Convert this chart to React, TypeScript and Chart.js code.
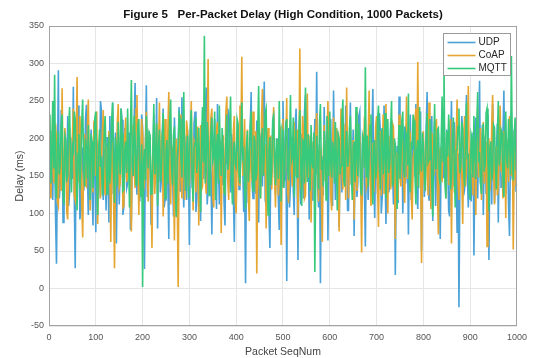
import { useEffect, useRef } from 'react';
import { Chart, registerables } from 'chart.js';

Chart.register(...registerables);

const chartTitle = 'Figure 5   Per-Packet Delay (High Condition, 1000 Packets)';
const xAxisTitle = 'Packet SeqNum';
const yAxisTitle = 'Delay (ms)';
const seriesNames = ['UDP', 'CoAP', 'MQTT'];
const seriesColors = ['#4aa2d8', '#e5a632', '#38ca7c'];
const seqStep = 2;
const xTickStep = 100;
const yTickStep = 50;
const xMin = 0;
const xMax = 1000;
const yMin = -50;
const yMax = 350;

const udpDelay = [
  150, 176, 210, 132, 118, 224, 185, 96, 33, 158, 291, 120, 140, 238, 205, 88, 96, 196, 172, 142,
  230, 110, 128, 202, 178, 146, 269, 124, 27, 182, 160, 244, 212, 92, 105, 170, 188, 130, 142, 226,
  245, 156, 98, 188, 170, 212, 132, 84, 220, 164, 75, 198, 190, 120, 150, 250, 238, 140, 118, 186,
  165, 104, 202, 148, 88, 230, 176, 126, 248, 172, 136, 208, 60, 154, 195, 112, 155, 240, 225, 98,
  110, 214, 182, 134, 140, 196, 208, 78, 92, 178, 160, 226, 274, 150, 125, 200, 190, 116, 148, 232,
  215, 144, 26, 190, 271, 122, 138, 210, 178, 86, 100, 166, 232, 142, 162, 254, 80, 174, 198, 128,
  145, 206, 240, 108, 118, 186, 172, 140, 66, 220, 205, 158, 152, 96, 228, 180, 95, 136, 186, 242,
  130, 176, 255, 150, 108, 204, 168, 118, 212, 162, 58, 196, 192, 134, 146, 220, 236, 102, 120, 184,
  178, 128, 90, 210, 222, 146, 160, 236, 268, 112, 134, 188, 196, 154, 72, 170, 184, 226, 150, 106,
  246, 168, 112, 198, 174, 138, 204, 116, 84, 182, 166, 240, 230, 150, 128, 206, 190, 124, 62, 176,
  158, 200, 218, 132, 140, 184, 252, 164, 102, 142, 7, 170, 186, 114, 148, 216, 262, 138, 120, 194,
  170, 126, 224, 160, 88, 208, 196, 146, 136, 232, 276, 118, 110, 190, 182, 100, 54, 166, 160, 214,
  234, 152, 126, 180, 200, 120, 78, 196, 170, 136, 250, 174, 144, 224, 10, 158, 214, 108, 138, 202,
  180, 130, 98, 216, 240, 154, 38, 178, 166, 112, 206, 148, 120, 236, 258, 168, 150, 196, 92, 184,
  196, 118, 132, 170, 226, 152, 289, 136, 108, 192, 7, 162, 176, 124, 242, 184, 140, 210, 64, 158,
  188, 226, 154, 110, 264, 176, 118, 200, 210, 142, 82, 180, 172, 128, 228, 160, 136, 244, 196, 104,
  104, 190, 248, 138, 160, 212, 70, 166, 184, 122, 142, 230, 236, 150, 116, 194, 200, 132, 56, 178,
  168, 118, 222, 176, 130, 204, 266, 144, 94, 188, 180, 126, 150, 234, 210, 100, 122, 172, 244, 156,
  86, 196, 174, 128, 138, 222, 202, 160, 112, 180, 18, 150, 190, 114, 256, 174, 146, 206, 100, 168,
  216, 140, 160, 190, 72, 176, 232, 118, 128, 210, 184, 150, 246, 132, 106, 198, 170, 236, 50, 164,
  198, 122, 144, 216, 262, 140, 118, 188, 176, 230, 90, 172, 224, 110, 154, 200, 208, 134, 66, 186,
  182, 148, 238, 170, 126, 212, 164, 104, 96, 190, 250, 136, 140, 222, 192, 158, 74, 180, -25, 146,
  170, 230, 214, 124, 132, 194, 258, 150, 108, 176, 186, 116, 152, 208, 44, 168, 228, 138, 120, 200,
  277, 140, 162, 218, 98, 180, 204, 126, 140, 232, 38, 166, 196, 112, 246, 188, 114, 154, 176, 220,
  88, 172, 220, 134, 150, 206, 264, 160, 126, 190, 184, 110, 70, 180, 236, 146, 144, 212, 198, 130,
  160,
];

const coapDelay = [
  160, 196, 120, 168, 232, 140, 148, 220, 198, 116, 110, 184, 176, 130, 267, 158, 130, 214, 186, 102,
  92, 178, 214, 146, 156, 202, 240, 124, 118, 186, 282, 150, 144, 230, 190, 112, 68, 174, 206, 138,
  136, 212, 252, 160, 104, 194, 180, 128, 224, 170, 150, 236, 86, 152, 198, 120, 168, 208, 238, 144,
  124, 190, 178, 138, 210, 164, 62, 182, 196, 118, 27, 160, 168, 222, 246, 134, 140, 186, 200, 108,
  110, 206, 228, 142, 152, 176, 186, 120, 76, 194, 218, 156, 134, 240, 258, 166, 98, 180, 174, 226,
  206, 130, 142, 192, 236, 158, 116, 200, 188, 144, 54, 172, 214, 126, 160, 220, 128, 184, 248, 150,
  170, 208, 96, 176, 226, 134, 146, 212, 262, 164, 112, 190, 184, 140, 64, 178, 200, 122, 2, 168,
  232, 148, 120, 200, 178, 118, 156, 224, 210, 136, 140, 186, 250, 162, 104, 196, 190, 128, 164, 216,
  84, 170, 218, 132, 136, 206, 198, 146, 126, 188, 306, 154, 150, 228, 240, 120, 108, 176, 182, 214,
  222, 160, 146, 198, 74, 182, 204, 128, 168, 236, 256, 144, 118, 190, 194, 152, 138, 210, 230, 116,
  100, 170, 184, 138, 244, 196, 309, 150, 160, 226, 128, 180, 212, 122, 90, 188, 176, 142, 236, 162,
  148, 210, 20, 166, 198, 136, 120, 224, 266, 154, 156, 192, 80, 174, 214, 118, 172, 204, 132, 188,
  242, 146, 108, 184, 190, 124, 150, 216, 58, 170, 226, 140, 162, 198, 254, 128, 114, 180, 200, 156,
  136, 192, 222, 150, 176, 212, 94, 168, 320, 140, 146, 230, 208, 120, 124, 186, 260, 148, 170, 204,
  88, 174, 196, 132, 152, 208, 234, 160, 116, 190, 182, 126, 62, 172, 218, 144, 142, 200, 250, 166,
  174, 122, 104, 196, 228, 148, 160, 214, 198, 136, 76, 184, 240, 156, 132, 220, 186, 118, 268, 170,
  120, 188, 212, 140, 150, 198, 92, 176, 236, 130, 166, 208, 202, 146, 48, 168, 180, 226, 224, 134,
  140, 196, 264, 152, 110, 182, 194, 128, 156, 216, 230, 142, 82, 178, 210, 124, 170, 232, 126, 190,
  246, 154, 100, 204, 188, 132, 148, 220, 216, 162, 66, 180, 178, 118, 232, 150, 136, 198, 196, 140,
  114, 186, 256, 146, 160, 212, 206, 128, 92, 174, 184, 224, 240, 136, 302, 168, 152, 190, 34, 156,
  210, 142, 130, 196, 180, 124, 248, 170, 106, 208, 196, 150, 158, 218, 226, 132, 72, 178, 188, 146,
  144, 202, 236, 160, 120, 190, 204, 138, 170, 226, 60, 176, 214, 128, 162, 198, 252, 144, 118, 184,
  194, 152, 86, 178, 230, 136, 154, 208, 270, 166, 126, 188, 182, 124, 210, 172, 98, 196, 240, 148,
  162, 214, 118, 170, 222, 140, 176, 196, 56, 158, 200, 130, 146, 218, 258, 164, 112, 182, 190, 124,
  134, 192, 244, 156, 168, 120, 210, 176, 94, 200, 186, 142, 230, 168, 150, 210, 52, 160, 206, 138,
  172,
];

const mqttDelay = [
  190, 232, 140, 176, 250, 160, 285, 138, 120, 196, 210, 152, 166, 218, 232, 128, 112, 204, 198, 146,
  150, 214, 242, 168, 128, 190, 184, 236, 226, 154, 104, 180, 206, 132, 170, 224, 252, 162, 136, 200,
  188, 146, 218, 172, 118, 206, 196, 134, 160, 228, 236, 150, 98, 186, 212, 162, 176, 124, 140, 210,
  230, 170, 126, 194, 200, 140, 164, 226, 248, 158, 114, 202, 186, 136, 222, 178, 152, 240, 206, 130,
  132, 186, 196, 154, 240, 176, 108, 212, 278, 164, 150, 230, 204, 138, 168, 218, 226, 146, 122, 192,
  2, 170, 186, 144, 230, 196, 160, 208, 204, 126, 128, 184, 246, 152, 174, 220, 110, 188, 212, 142,
  156, 200, 234, 168, 120, 182, 198, 140, 180, 226, 252, 160, 138, 204, 216, 130, 96, 176, 190, 232,
  226, 174, 148, 210, 262, 156, 130, 190, 204, 120, 172, 218, 238, 146, 116, 186, 194, 228, 154, 180,
  214, 150, 102, 196, 242, 168, 337, 140, 160, 222, 200, 124, 134, 208, 228, 170, 176, 236, 118, 188,
  206, 140, 244, 178, 150, 214, 188, 132, 124, 200, 232, 158, 170, 220, 256, 148, 112, 184, 196, 166,
  162, 226, 220, 152, 140, 196, 248, 176, 182, 134, 106, 190, 210, 142, 168, 216, 236, 160, 130, 204,
  196, 144, 154, 212, 270, 166, 120, 198, 214, 150, 178, 234, 240, 162, 98, 186, 202, 138, 160, 224,
  230, 172, 138, 200, 188, 146, 250, 180, 116, 212, 206, 134, 164, 218, 226, 156, 144, 194, 258, 170,
  176, 228, 122, 190, 212, 148, 156, 214, 238, 166, 110, 198, 196, 140, 268, 174, 142, 206, 184, 130,
  218, 170, 160, 208, 22, 148, 204, 176, 132, 222, 246, 158, 172, 136, 210, 188, 118, 230, 190, 150,
  236, 168, 148, 196, 184, 140, 222, 174, 104, 206, 200, 152, 164, 226, 252, 144, 136, 192, 210, 162,
  170, 214, 230, 156, 118, 188, 196, 142, 242, 176, 150, 220, 186, 134, 124, 204, 198, 160, 295, 148,
  204, 136, 176, 218, 232, 162, 112, 190, 198, 146, 158, 224, 244, 170, 132, 206, 214, 152, 180, 234,
  120, 184, 226, 154, 166, 212, 250, 138, 140, 200, 192, 168, 106, 178, 218, 146, 170, 224, 236, 158,
  148, 210, 204, 164, 260, 142, 128, 196, 186, 232, 224, 150, 112, 186, 198, 134, 242, 174, 156, 208,
  190, 152, 130, 204, 234, 168, 172, 226, 208, 140, 96, 182, 246, 160, 160, 212, 214, 148, 138, 196,
  256, 170, 306, 144, 120, 210, 176, 232, 198, 132, 150, 190, 228, 162, 108, 184, 186, 216, 240, 154,
  164, 222, 212, 158, 136, 194, 248, 172, 180, 126, 118, 206, 200, 148, 230, 178, 146, 214, 262, 168,
  182, 140, 126, 202, 220, 156, 166, 234, 240, 174, 104, 188, 196, 144, 154, 218, 214, 162, 132, 200,
  250, 164, 176, 212, 208, 146, 122, 190, 236, 170, 160, 226, 198, 152, 310, 180, 144, 204, 228, 158,
  186,
];

const seriesValues = [udpDelay, coapDelay, mqttDelay];

const FONT = "'Liberation Sans', Arial, Helvetica, sans-serif";

const framePlugin = {
  id: 'frameAndLegend',
  afterDraw(chart: any) {
    const { ctx, chartArea } = chart;
    ctx.save();
    ctx.strokeStyle = '#a3a3a3';
    ctx.lineWidth = 1;
    const l = Math.round(chartArea.left) + 0.5;
    const t = Math.round(chartArea.top) + 0.5;
    const r = Math.round(chartArea.right) - 0.5;
    const b = Math.round(chartArea.bottom) - 0.5;
    ctx.strokeRect(l, t, r - l, b - t);

    const bw = 67;
    const bh = 42;
    const bx = Math.round(chartArea.right) - 7 - bw + 0.5;
    const by = Math.round(chartArea.top) + 7 + 0.5;
    ctx.fillStyle = '#ffffff';
    ctx.fillRect(bx, by, bw, bh);
    ctx.strokeStyle = '#9a9a9a';
    ctx.strokeRect(bx, by, bw, bh);
    ctx.font = `10px ${FONT}`;
    ctx.textBaseline = 'middle';
    ctx.textAlign = 'left';
    chart.data.datasets.forEach((ds: any, i: number) => {
      const y = by + 9 + i * 13;
      ctx.strokeStyle = ds.borderColor;
      ctx.lineWidth = 1.6;
      ctx.beginPath();
      ctx.moveTo(bx + 4, y);
      ctx.lineTo(bx + 32, y);
      ctx.stroke();
      ctx.fillStyle = '#262626';
      ctx.fillText(ds.label, bx + 35, y);
    });
    ctx.restore();
  },
};

export default function App() {
  const canvasRef = useRef<HTMLCanvasElement | null>(null);

  useEffect(() => {
    const canvas = canvasRef.current;
    if (!canvas) return;
    const datasets = seriesValues.map((vals, s) => ({
      label: seriesNames[s],
      data: vals.map((v, i) => ({ x: i * seqStep, y: v })),
      borderColor: seriesColors[s],
      backgroundColor: seriesColors[s],
      borderWidth: 1.6,
      pointRadius: 0,
      tension: 0,
      fill: false,
      order: seriesValues.length - s,
    }));

    const chart = new Chart(canvas, {
      type: 'line',
      data: { datasets },
      options: {
        responsive: false,
        animation: false,
        devicePixelRatio: 1,
        layout: { padding: { left: 0, right: 13, top: 0, bottom: 0 } },
        plugins: {
          legend: { display: false },
          tooltip: { enabled: false },
          title: {
            display: true,
            text: chartTitle,
            fullSize: false,
            color: '#111111',
            font: { family: FONT, size: 11.5, weight: 'bold' },
            padding: { top: 8, bottom: 4.2 },
          },
        },
        scales: {
          x: {
            type: 'linear',
            min: xMin,
            max: xMax,
            ticks: {
              stepSize: xTickStep,
              color: '#555555',
              font: { family: FONT, size: 9 },
              padding: 6,
              maxRotation: 0,
              callback: (v: any) => String(v),
            },
            grid: { color: '#e6e6e6', drawTicks: false },
            border: { display: false },
            title: {
              display: true,
              text: xAxisTitle,
              color: '#444444',
              font: { family: FONT, size: 10.5 },
              padding: { top: 0, bottom: 0 },
            },
            afterFit: (scale: any) => {
              scale.height = 32;
            },
          },
          y: {
            type: 'linear',
            min: yMin,
            max: yMax,
            ticks: {
              stepSize: yTickStep,
              color: '#555555',
              font: { family: FONT, size: 9 },
              padding: 5,
              callback: (v: any) => String(v),
            },
            grid: { color: '#e6e6e6', drawTicks: false },
            border: { display: false },
            title: {
              display: true,
              text: yAxisTitle,
              color: '#444444',
              font: { family: FONT, size: 10.5 },
              padding: { top: 14, bottom: 0 },
            },
            afterFit: (scale: any) => {
              scale.width = 49;
            },
          },
        },
      } as any,
      plugins: [framePlugin],
    });
    return () => chart.destroy();
  }, []);

  return (
    <div style={{ position: 'fixed', left: 0, top: 0, width: 533, height: 358, background: '#ffffff' }}>
      <canvas ref={canvasRef} width={533} height={358} style={{ width: 533, height: 358, display: 'block' }} />
    </div>
  );
}
